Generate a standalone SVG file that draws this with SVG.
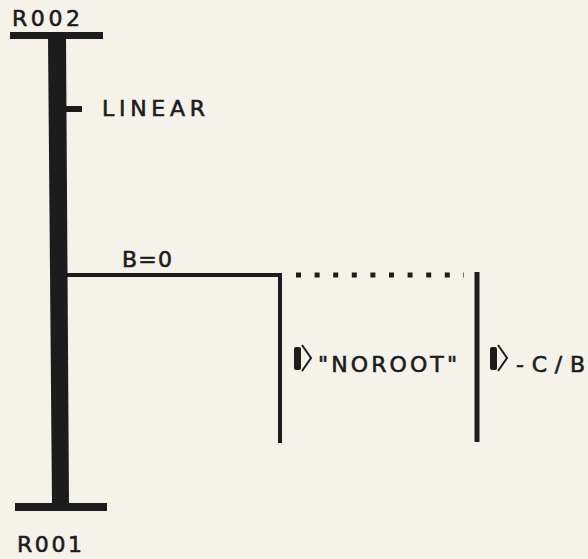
<svg xmlns="http://www.w3.org/2000/svg" width="588" height="559" viewBox="0 0 588 559">
<style>
.t{font-family:"DejaVu Sans","Liberation Sans",sans-serif;font-size:22px;fill:#1c1c1c;stroke:#1c1c1c;stroke-width:0.6px}
.ink{fill:#1c1c1c}
.ln{stroke:#1c1c1c;fill:none}
</style>
<rect width="588" height="559" fill="#f4f2e9"/>
<g id="stem">
<polygon class="ink" points="48,38 66,38 69,505 52,505"/>
</g>
<g id="root-top">
<rect class="ink" x="10" y="32" width="93" height="7"/>
<text class="t" x="12" y="26" textLength="68" lengthAdjust="spacing">R002</text>
</g>
<g id="root-bottom">
<rect class="ink" x="15" y="503" width="92" height="8"/>
<text class="t" x="17" y="552" textLength="65" lengthAdjust="spacing">R001</text>
</g>
<g id="linear">
<rect class="ink" x="64" y="106" width="18" height="6"/>
<text class="t" x="102" y="116" textLength="103" lengthAdjust="spacing">LINEAR</text>
</g>
<g id="connectors">
<polyline class="ln" stroke-width="4" points="66,275 280,275 280,443"/>
<line class="ln" x1="296" y1="275" x2="464" y2="275" stroke-width="5" stroke-dasharray="5 13.6"/>
<line class="ln" x1="477" y1="272" x2="477" y2="442" stroke-width="5"/>
</g>
<g id="branch-b0">
<text class="t" x="122" y="267" textLength="50" lengthAdjust="spacing">B=0</text>
</g>
<g id="noroot">
<rect class="ink" x="294" y="347" width="7" height="23" rx="2"/>
<polyline class="ln" stroke-width="2" points="302,345 311,358 302,371"/>
<text class="t" x="318" y="372" textLength="139" lengthAdjust="spacing">"NOROOT"</text>
</g>
<g id="neg-c-b">
<rect class="ink" x="490" y="347" width="7" height="23" rx="2"/>
<polyline class="ln" stroke-width="2" points="498,345 507,358 498,371"/>
<text class="t" x="516" y="372" textLength="69" lengthAdjust="spacing">-C/B</text>
</g>
</svg>
